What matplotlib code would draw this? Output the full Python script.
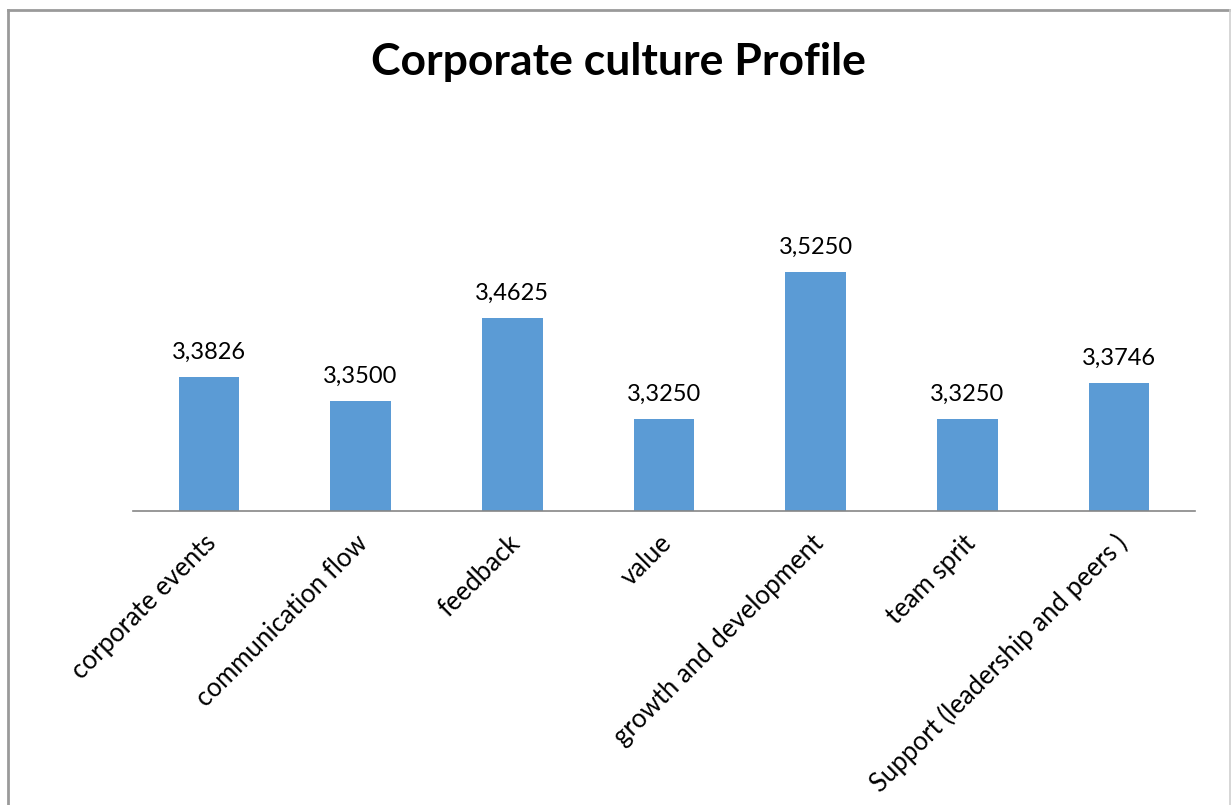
import matplotlib
matplotlib.use("Agg")
import matplotlib.pyplot as plt
import matplotlib.transforms as mtransforms
from matplotlib.lines import Line2D

categories = ["corporate events", "communication flow", "feedback", "value",
              "growth and development", "team sprit", "Support (leadership and peers )"]
values = [3.3826, 3.3500, 3.4625, 3.3250, 3.5250, 3.3250, 3.3746]
title = "Corporate culture Profile"

plt.rcParams['font.family'] = ['Lato', 'DejaVu Sans']

W, H = 1231, 805
fig = plt.figure(figsize=(W / 100, H / 100), dpi=100)
fig.patch.set_facecolor("white")

# chart border (Excel chart area)
fig.add_artist(Line2D([8 / W, 8 / W], [0, 1 - 10 / H], transform=fig.transFigure, color="#9a9a9a", lw=2))
fig.add_artist(Line2D([8 / W, 1229 / W], [1 - 10 / H, 1 - 10 / H], transform=fig.transFigure, color="#9a9a9a", lw=2))
fig.add_artist(Line2D([1229.5 / W, 1229.5 / W], [0, 1 - 10 / H], transform=fig.transFigure, color="#d0d0d0", lw=1.2))

left, right = 133 / W, 1195 / W
bottom, top = 1 - 511 / H, 1 - 217 / H
ax = fig.add_axes([left, bottom, right - left, top - bottom])

x = range(len(categories))
bars = ax.bar(x, values, width=0.4, color="#5B9BD5", bottom=0)
ax.set_ylim(3.2, 3.6)
ax.set_xlim(-0.5, len(categories) - 0.5)

for xi, v in zip(x, values):
    ax.annotate(f"{v:.4f}".replace(".", ","), (xi, v), xytext=(0, 10), textcoords="offset points",
                ha="center", va="bottom", fontsize=17, color="black")

for s in ["top", "right", "left"]:
    ax.spines[s].set_visible(False)
ax.spines["bottom"].set_color("#868686")
ax.spines["bottom"].set_linewidth(1.2)
ax.set_yticks([])
ax.set_xticks(list(x))
ax.set_xticklabels(categories, rotation=45, ha="right", rotation_mode="anchor", fontsize=18.5)
ax.tick_params(axis="x", length=0, pad=14)
offset = mtransforms.ScaledTranslation(-5 / 100, 0, fig.dpi_scale_trans)
for lab in ax.get_xticklabels():
    lab.set_transform(lab.get_transform() + offset)

fig.text(618 / W, 1 - 62 / H, title, ha="center", va="center", fontsize=32, fontweight="bold")

fig.savefig("out.png", dpi=100)
